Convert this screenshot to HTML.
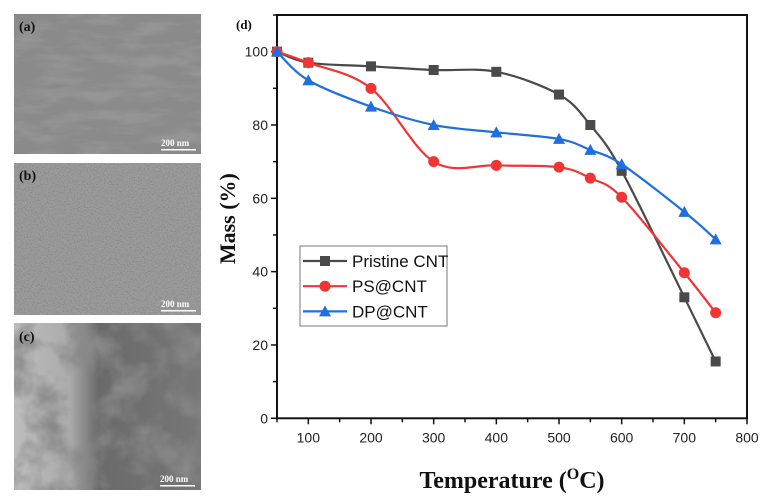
<!DOCTYPE html>
<html><head><meta charset="utf-8"><style>
html,body{margin:0;padding:0;background:#fff;width:771px;height:502px;overflow:hidden}
svg{display:block}
.ser{font-family:"Liberation Serif",serif;font-weight:bold}
.sans{font-family:"Liberation Sans",sans-serif}
</style></head><body>
<svg id="root" width="771" height="502" viewBox="0 0 771 502">
<defs>
<filter id="nA" x="0" y="0" width="100%" height="100%"><feTurbulence type="fractalNoise" baseFrequency="0.025 0.09" numOctaves="4" seed="3"/><feColorMatrix type="matrix" values="0 0 0 0 0.3 0 0 0 0 0.3 0 0 0 0 0.3 -3 0 0 0 1.8"/></filter>
<filter id="nB" x="0" y="0" width="100%" height="100%"><feTurbulence type="fractalNoise" baseFrequency="0.7" numOctaves="2" seed="7"/><feColorMatrix type="matrix" values="0 0 0 0 0.25 0 0 0 0 0.25 0 0 0 0 0.25 -4 0 0 0 2.1"/></filter>
<filter id="nC" x="0" y="0" width="100%" height="100%"><feTurbulence type="fractalNoise" baseFrequency="0.03" numOctaves="4" seed="11"/><feColorMatrix type="matrix" values="0 0 0 0 0.25 0 0 0 0 0.25 0 0 0 0 0.25 -2.5 0 0 0 1.5"/></filter>
<linearGradient id="gC" x1="0" x2="1" y1="0" y2="0"><stop offset="0" stop-color="#bdbdbd"/><stop offset="0.3" stop-color="#ababab"/><stop offset="0.45" stop-color="#6a6a6a"/><stop offset="1" stop-color="#777"/></linearGradient>
</defs>
<g>
<rect x="14" y="14" width="187" height="140" fill="#8a8a8a"/>
<rect x="14" y="14" width="187" height="140" filter="url(#nA)"/>
<text x="19" y="31" class="ser" font-size="14" fill="#111">(a)</text>
<text x="161" y="146" class="ser" font-size="9" fill="#fff" font-weight="normal">200 nm</text>
<rect x="161" y="149" width="35" height="1.5" fill="#fff"/>
</g>
<g>
<rect x="14" y="163" width="187" height="152" fill="#9a9a9a"/>
<rect x="14" y="163" width="187" height="152" filter="url(#nB)"/>
<text x="19" y="180" class="ser" font-size="14" fill="#111">(b)</text>
<text x="161" y="307" class="ser" font-size="9" fill="#fff" font-weight="normal">200 nm</text>
<rect x="161" y="310" width="35" height="1.5" fill="#fff"/>
</g>
<g>
<rect x="14" y="323" width="187" height="167" fill="url(#gC)"/>
<rect x="14" y="323" width="187" height="167" filter="url(#nC)"/>
<text x="19" y="341" class="ser" font-size="14" fill="#111">(c)</text>
<text x="160" y="482" class="ser" font-size="9" fill="#fff" font-weight="normal">200 nm</text>
<rect x="160" y="485" width="35" height="1.5" fill="#fff"/>
</g>
<g id="chart"></g>
</svg>
<script>
const temps=[50,100,200,300,400,500,550,600,700,750];
const pristine=[100,97,96,95,94.5,88.3,80,67.5,33,15.5];
const psCnt=[100,97,90,70,69,68.5,65.5,60.3,39.7,28.8];
const dpCnt=[100,92.2,85,80,78,76.2,73.2,69.3,56.3,48.8];
const xTicks=[100,200,300,400,500,600,700,800];
const yTicks=[0,20,40,60,80,100];
const seriesNames=["Pristine CNT","PS@CNT","DP@CNT"];

const NS="http://www.w3.org/2000/svg";
const L=277,R=747,T=15,B=418.3,X0=50,X1=800,Y0=0,Y1=110;
const sx=v=>L+(v-X0)/(X1-X0)*(R-L);
const sy=v=>B-(v-Y0)/(Y1-Y0)*(B-T);
const g=document.getElementById('chart');
function mk(tag,at,parent){const e=document.createElementNS(NS,tag);for(const k in at)e.setAttribute(k,at[k]);(parent||g).appendChild(e);return e;}
function spline(pts){let d=`M${pts[0][0]},${pts[0][1]}`;for(let i=0;i<pts.length-1;i++){const p0=pts[i-1]||pts[i],p1=pts[i],p2=pts[i+1],p3=pts[i+2]||p2;const t=0.5/3;d+=` C${p1[0]+(p2[0]-p0[0])*t},${p1[1]+(p2[1]-p0[1])*t} ${p2[0]-(p3[0]-p1[0])*t},${p2[1]-(p3[1]-p1[1])*t} ${p2[0]},${p2[1]}`;}return d;}
function marker(kind,x,y,color,parent){
 let m;
 if(kind==='sq')m=mk('rect',{x:x-5,y:y-5,width:10,height:10,fill:color},parent);
 else if(kind==='ci')m=mk('circle',{cx:x,cy:y,r:5.5,fill:color},parent);
 else m=mk('polygon',{points:`${x},${y-6} ${x+6},${y+5} ${x-6},${y+5}`,fill:color},parent);
 return m;}
const frame=mk('rect',{x:L,y:T,width:R-L,height:B-T,fill:'none',stroke:'#111','stroke-width':2});


for(let v=50;v<=800;v+=50){const major=v%100===0;const t=mk('line',{x1:sx(v),x2:sx(v),y1:B,y2:B+(major?6:4),stroke:'#111','stroke-width':1.5});

}
xTicks.forEach(v=>{const t=mk('text',{x:sx(v),y:B+24,'text-anchor':'middle','font-size':14,class:'sans',fill:'#222'});t.textContent=v;

});
for(let v=0;v<=110;v+=10){const major=v%20===0;const t=mk('line',{x1:L,x2:L-(major?6:4),y1:sy(v),y2:sy(v),stroke:'#111','stroke-width':1.5});

}
yTicks.forEach(v=>{const t=mk('text',{x:L-9,y:sy(v)+5,'text-anchor':'end','font-size':14,class:'sans',fill:'#222'});t.textContent=v;

});
const pd=mk('text',{x:L-41,y:29,'font-size':13,class:'ser',fill:'#111'});pd.textContent='(d)';


const yt=mk('text',{x:0,y:0,'font-size':22,class:'ser','text-anchor':'middle',fill:'#111',transform:`translate(235,${(T+B)/2+2}) rotate(-90)`});yt.textContent='Mass (%)';


const xt=mk('text',{x:512,y:488,'font-size':24,class:'ser','text-anchor':'middle',fill:'#111'});
xt.innerHTML='Temperature (<tspan dy="-9" font-size="16">O</tspan><tspan dy="9">C)</tspan>';


const series=[[pristine,'#4a4a4a','sq','pristine'],[psCnt,'#f03535','ci','ps-cnt'],[dpCnt,'#1f6fe0','tr','dp-cnt']];
series.forEach(([vals,c,k,n])=>{
 const grp=mk('g',{});
 
 
 const pts=temps.map((t,i)=>[sx(t),sy(vals[i])]);
 const p=mk('path',{d:spline(pts),fill:'none',stroke:c,'stroke-width':2.2},grp);
 
 
 pts.forEach(q=>{const m=marker(k,q[0],q[1],c,grp);
 
 });
});
const lg=mk('g',{});


mk('rect',{x:300,y:246,width:147,height:80,fill:'#fff',stroke:'#777','stroke-width':1},lg);
series.forEach(([vals,c,k,n],i)=>{const y=261+i*25.2;
 const e=mk('g',{},lg);
 
 
 mk('line',{x1:303,x2:347,y1:y,y2:y,stroke:c,'stroke-width':2.2},e);
 marker(k,325,y,c,e);
 const t=mk('text',{x:352,y:y+6,'font-size':17,class:'sans',fill:'#111'},e);t.textContent=seriesNames[i];});
</script>
</body></html>
